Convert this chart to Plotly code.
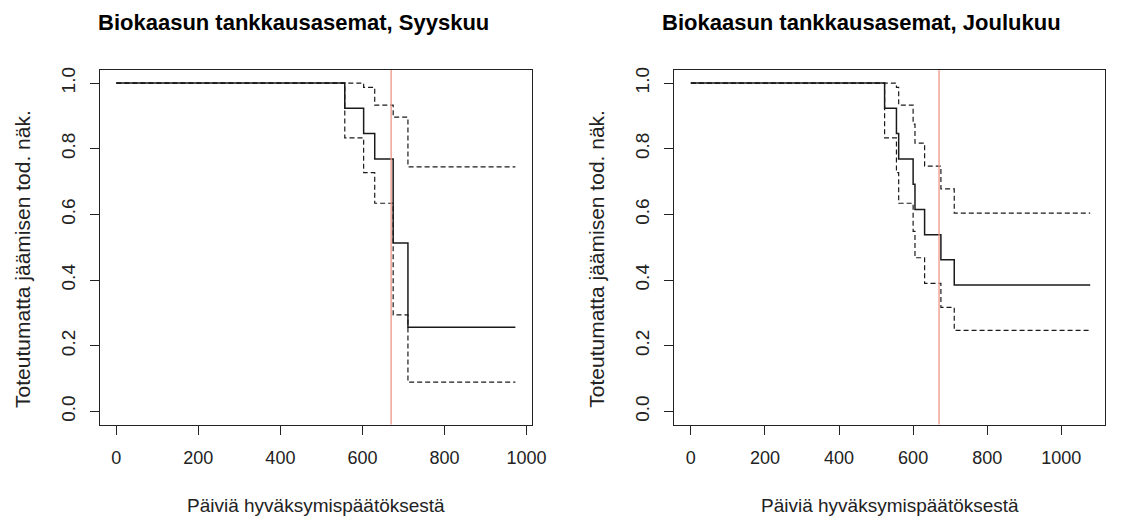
import plotly.graph_objects as go

# Kaplan-Meier estimates with confidence bands (days since approval)
sep_days  = [0, 557, 603, 630, 675, 711, 973]
sep_surv  = [1.0, 0.923, 0.846, 0.769, 0.513, 0.256, 0.256]
sep_upper = [1.0, 1.0, 0.987, 0.933, 0.896, 0.745, 0.745]
sep_lower = [1.0, 0.833, 0.727, 0.634, 0.294, 0.089, 0.089]

dec_days  = [0, 523, 555, 561, 600, 605, 631, 675, 711, 1078]
dec_surv  = [1.0, 0.923, 0.846, 0.769, 0.692, 0.615, 0.538, 0.462, 0.385, 0.385]
dec_upper = [1.0, 1.0, 0.987, 0.933, 0.875, 0.817, 0.747, 0.678, 0.604, 0.604]
dec_lower = [1.0, 0.833, 0.727, 0.634, 0.548, 0.468, 0.390, 0.317, 0.247, 0.247]

ref_day = 670

titles = ["Biokaasun tankkausasemat, Syyskuu", "Biokaasun tankkausasemat, Joulukuu"]
x_title = "Päiviä hyväksymispäätöksestä"
y_title = "Toteutumatta jäämisen tod. näk."
x_ticks = [0, 200, 400, 600, 800, 1000]
y_ticks = [0.0, 0.2, 0.4, 0.6, 0.8, 1.0]
y_ticklabels = ["0.0", "0.2", "0.4", "0.6", "0.8", "1.0"]

W, H = 1122, 521
FONT = "Liberation Sans, Arial, sans-serif"
TXT = "#222222"

panels = [
    dict(days=sep_days, surv=sep_surv, up=sep_upper, lo=sep_lower,
         box=(101.7, 539.0), xr=(-39, 1013), title_x=297),
    dict(days=dec_days, surv=dec_surv, up=dec_upper, lo=dec_lower,
         box=(683.3, 1120.0), xr=(-45, 1118), title_x=873),
]
box_top, box_bot = 67.3, 424.0

fig = go.Figure()
annotations = []
shapes = []

for i, p in enumerate(panels):
    sfx = "" if i == 0 else str(i + 1)
    xa, ya = "x" + sfx, "y" + sfx
    for vals, dash, width in [(p["up"], "5px,3px", 1.2), (p["lo"], "5px,3px", 1.2),
                              (p["surv"], "solid", 1.5)]:
        fig.add_trace(go.Scatter(
            x=p["days"], y=vals, mode="lines", line_shape="hv",
            line=dict(color="#1a1a1a", width=width, dash=dash),
            xaxis=xa, yaxis=ya, showlegend=False, hoverinfo="skip"))

    x0, x1 = p["box"]
    dom_x = [x0 / W, x1 / W]
    dom_y = [1 - box_bot / H, 1 - box_top / H]
    axis_common = dict(showline=True, mirror=True, linecolor="#222222", linewidth=1,
                       ticks="outside", ticklen=9, tickwidth=1, tickcolor="#222222",
                       showgrid=False, zeroline=False)
    fig.layout["xaxis" + sfx] = dict(domain=dom_x, range=list(p["xr"]), anchor=ya,
                                     tickvals=x_ticks, ticklabelstandoff=8,
                                     tickfont=dict(family=FONT, size=18, color=TXT),
                                     **axis_common)
    fig.layout["yaxis" + sfx] = dict(domain=dom_y, range=[-0.04, 1.04], anchor=xa,
                                     tickvals=y_ticks, ticktext=y_ticklabels,
                                     tickangle=-90, ticklabelstandoff=8,
                                     tickfont=dict(family=FONT, size=19, color=TXT),
                                     **axis_common)

    shapes.append(dict(type="line", xref=xa, yref=ya + " domain", x0=ref_day, x1=ref_day,
                       y0=0, y1=1, line=dict(color="#EE9585", width=1.3), layer="above"))

    cx = (x0 + x1) / 2 / W
    annotations.append(dict(text="<b>" + titles[i] + "</b>", xref="paper", yref="paper",
                            x=p["title_x"] / W, y=1 - 20 / H, xanchor="center", yanchor="middle",
                            showarrow=False, font=dict(family=FONT, size=22, color="#000000")))
    annotations.append(dict(text=x_title, xref="paper", yref="paper",
                            x=cx, y=1 - 505 / H, xanchor="center", yanchor="middle",
                            showarrow=False, font=dict(family=FONT, size=19, color=TXT)))
    annotations.append(dict(text=y_title, xref="paper", yref="paper",
                            x=(x0 - 79) / W, y=1 - 257 / H,
                            xanchor="center", yanchor="middle", textangle=-90,
                            showarrow=False, font=dict(family=FONT, size=21, color=TXT)))

fig.update_layout(width=W, height=H, margin=dict(l=0, r=0, t=0, b=0),
                  paper_bgcolor="white", plot_bgcolor="white",
                  annotations=annotations, shapes=shapes)

fig.write_html("out.html")
